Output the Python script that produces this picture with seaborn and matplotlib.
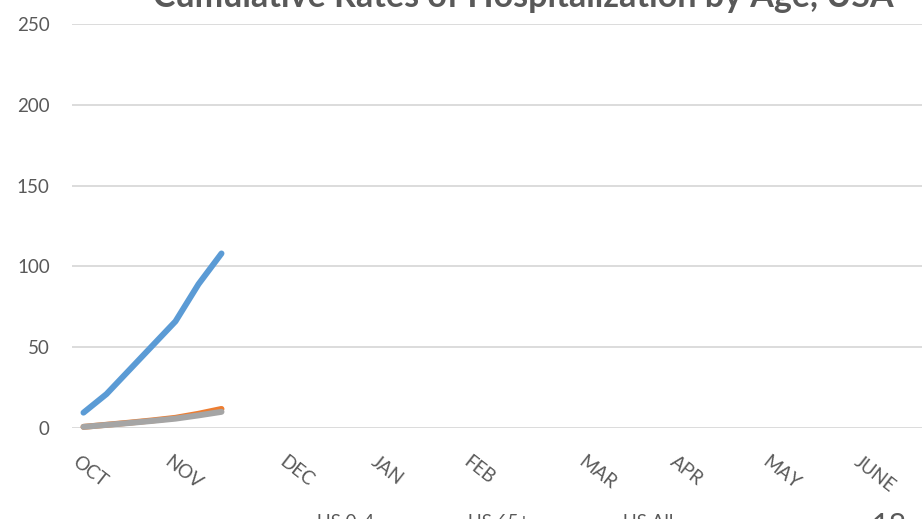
import pandas as pd
import matplotlib.pyplot as plt
import matplotlib.transforms as mtransforms
import seaborn as sns

# cumulative rate per 100,000, weekly since start of October
weeks = [0, 1, 2, 3, 4, 5, 6]
us_0_4 = [9.5, 21, 36, 51, 66, 89, 108]
us_65 = [0.7, 2.0, 3.3, 4.7, 6.3, 8.8, 11.8]
us_all = [0.7, 1.9, 3.1, 4.4, 5.8, 7.8, 10.0]

month_pos = [0, 4, 9, 13, 17, 22, 26, 30, 34]
month_labels = ['OCT', 'NOV', 'DEC', 'JAN', 'FEB', 'MAR', 'APR', 'MAY', 'JUNE']
series_names = ['US 0-4', 'US 65+', 'US All']
colors = ['#5B9BD5', '#ED7D31', '#A5A5A5']

data = pd.DataFrame({
    'week': weeks * 3,
    'rate': us_0_4 + us_65 + us_all,
    'series': [series_names[0]] * len(weeks) + [series_names[1]] * len(weeks) + [series_names[2]] * len(weeks),
})

sns.set_style('white')
plt.rcParams['font.family'] = ['Lato', 'DejaVu Sans']
grey = '#595959'

fig = plt.figure(figsize=(9.22, 5.19), dpi=100)
ax = fig.add_axes([72 / 922, (519 - 428) / 519, 1 - 72 / 922, (428 - 24) / 519])

sns.lineplot(data=data, x='week', y='rate', hue='series', hue_order=series_names,
             palette=colors, linewidth=4.3, ax=ax, legend=True)
for line in ax.lines:
    line.set_solid_capstyle('round')
    line.set_clip_on(False)

ax.set_xlim(-0.5, 36.46)
ax.set_ylim(0, 250)
ax.set_yticks(range(0, 251, 50))
ax.grid(axis='y', color='#D9D9D9', linewidth=1.3)
ax.set_axisbelow(True)
sns.despine(ax=ax, left=True, bottom=True)
ax.set_xlabel('')
ax.set_ylabel('')

ax.tick_params(axis='y', length=0, pad=16, labelsize=13.5, labelcolor=grey)
ax.set_xticks(month_pos)
ax.set_xticklabels(month_labels)
ax.tick_params(axis='x', length=0, pad=18, labelsize=13.5, labelcolor=grey)
offset = mtransforms.ScaledTranslation(-4 / 100, 0, fig.dpi_scale_trans)
for lab in ax.get_xticklabels():
    lab.set_rotation(-38)
    lab.set_ha('left')
    lab.set_va('top')
    lab.set_rotation_mode('anchor')
    lab.set_transform(lab.get_transform() + offset)

fig.text(523 / 922, 1 - 7 / 519, 'Cumulative Rates of Hospitalization by Age, USA',
         ha='center', va='baseline', fontsize=24.5, fontweight='bold', color=grey)

handles, labels = ax.get_legend_handles_labels()
ax.get_legend().remove()
fig.legend(handles, labels, ncol=3, loc='center', bbox_to_anchor=(465 / 922, 1 - 522 / 519),
           frameon=False, fontsize=13.5, labelcolor=grey, handlelength=2.6,
           columnspacing=1.8, handletextpad=0.6)

fig.text(872 / 922, 1 - 512 / 519, '18', ha='left', va='top', fontsize=22, color=grey)

fig.savefig('out.png', dpi=100)
